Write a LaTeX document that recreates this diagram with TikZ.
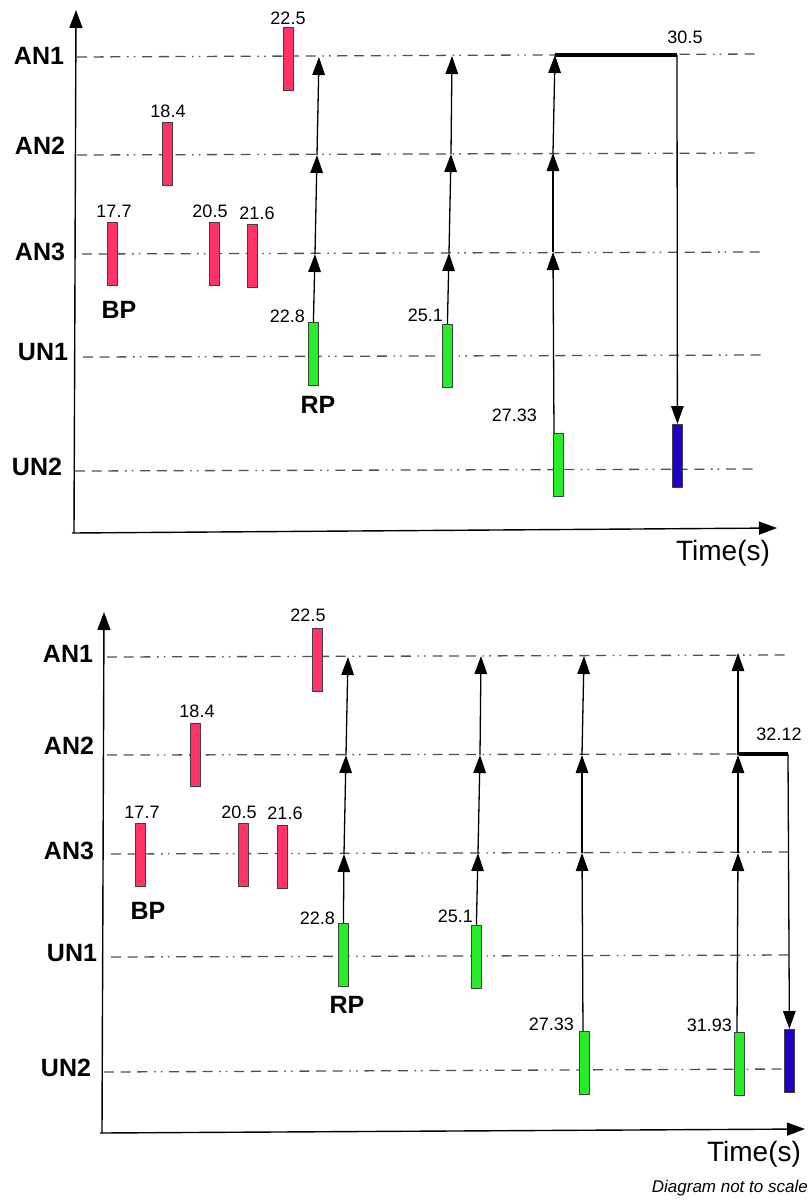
\documentclass[tikz,border=0pt]{standalone}
\usepackage{fontspec}
\setmainfont{Liberation Sans}
\usetikzlibrary{arrows.meta}
\definecolor{boxred}{RGB}{255,51,102}
\definecolor{boxgreen}{RGB}{40,238,40}
\definecolor{boxblue}{RGB}{34,0,204}
\definecolor{gridgray}{RGB}{80,80,80}
\tikzset{
  axisline/.style={line width=1.4pt, -{Triangle[width=13pt,length=18pt]}},
  levelline/.style={gridgray, line width=1.3pt, dash pattern=on 10pt off 6.7pt on 10pt off 6.7pt on 10pt off 6.7pt on 1.5pt off 5.2pt on 1.5pt off 6.8pt},
  arr/.style={line width=1.3pt, -{Triangle[width=12.5pt,length=18pt]}},
  thick3/.style={line width=3.5pt},
  evbox/.style={draw=black!75, line width=0.8pt, minimum width=10pt, minimum height=63pt, inner sep=0pt, anchor=north west},
  redbox/.style={evbox, fill=boxred},
  greenbox/.style={evbox, fill=boxgreen},
  bluebox/.style={evbox, fill=boxblue},
  lvl/.style={font=\fontsize{25}{27}\selectfont\bfseries, inner sep=0pt},
  num/.style={font=\fontsize{18}{20}\selectfont, inner sep=0pt},
  timelab/.style={font=\fontsize{28}{30}\selectfont, inner sep=0pt},
  notelab/.style={font=\fontsize{17}{19}\selectfont\itshape, inner sep=0pt},
}
\begin{document}
\begin{tikzpicture}[x=1pt,y=-1pt]
\useasboundingbox (0,0) rectangle (811,1203);

% ================= TOP PANEL =================
\coordinate (tyb) at (74,533);
\coordinate (tyt) at (76,10);
\coordinate (txl) at (72,533);
\coordinate (txr) at (777,528);
\draw[axisline] (tyb) -- (tyt);
\draw[axisline] (txl) -- (txr);

\coordinate (tA1l) at (77,57);  \coordinate (tA1r) at (758,54);
\coordinate (tA2l) at (77,155); \coordinate (tA2r) at (758,153);
\coordinate (tA3l) at (82,254); \coordinate (tA3r) at (762,252);
\coordinate (tU1l) at (83,357); \coordinate (tU1r) at (766,355);
\coordinate (tU2l) at (75,471); \coordinate (tU2r) at (757,469);
\draw[levelline] (tA1l) -- (tA1r);
\draw[levelline] (tA2l) -- (tA2r);
\draw[levelline] (tA3l) -- (tA3r);
\draw[levelline] (tU1l) -- (tU1r);
\draw[levelline] (tU2l) -- (tU2r);

\node[lvl] (tlA1) at (39,56) {AN1};
\node[lvl] (tlA2) at (40,146) {AN2};
\node[lvl] (tlA3) at (40,252) {AN3};
\node[lvl] (tlU1) at (43,352) {UN1};
\node[lvl] (tlU2) at (37,467) {UN2};
\node[lvl] (tBP) at (119,310) {BP};
\node[lvl] (tRP) at (318,405) {RP};

\node[redbox] (tr225) at (283,27) {};
\node[redbox] (tr184) at (162,122) {};
\node[redbox] (tr177) at (107,222) {};
\node[redbox] (tr205) at (209,222) {};
\node[redbox] (tr216) at (247,224) {};
\node[num] (tn225) at (288,18) {22.5};
\node[num] (tn184) at (168,111) {18.4};
\node[num] (tn177) at (114,211) {17.7};
\node[num] (tn205) at (210,211) {20.5};
\node[num] (tn216) at (257,213) {21.6};

\node[greenbox] (tg228) at (308,322) {};
\node[greenbox] (tg251) at (442,324) {};
\node[greenbox] (tg2733) at (553,433) {};
\node[bluebox] (tb) at (672,424) {};
\node[num, anchor=east] (tn228) at (305,316) {22.8};
\node[num, anchor=east] (tn251) at (443,315) {25.1};
\node[num, anchor=east] (tn2733) at (537,415) {27.33};
\node[num] (tn305) at (685,37) {30.5};

\coordinate (tc1a3) at (315,254);
\coordinate (tc1a2) at (317,155);
\coordinate (tc1a1) at (319,57);
\draw[arr] (tg228.north) -- (tc1a3);
\draw[arr] (tc1a3) -- (tc1a2);
\draw[arr] (tc1a2) -- (tc1a1);
\coordinate (tc2a3) at (449,253);
\coordinate (tc2a2) at (451,154);
\coordinate (tc2a1) at (452,56);
\draw[arr] (tg251.north) -- (tc2a3);
\draw[arr] (tc2a3) -- (tc2a2);
\draw[arr] (tc2a2) -- (tc2a1);
\coordinate (tc3s) at (554,433);
\coordinate (tc3a3) at (553,252);
\coordinate (tc3a2) at (553,153);
\coordinate (tc3a1) at (555,55);
\draw[arr] (tc3s) -- (tc3a3);
\draw[arr] (tc3a3) -- (tc3a2);
\draw[arr] (tc3a2) -- (tc3a1);
\coordinate (tth) at (677,55);
\draw[thick3] (tc3a1) -- (tth);
\draw[arr] (tth) -- (tb.north);

\node[timelab] (ttime) at (723,553) {Time(s)};

% ================= BOTTOM PANEL =================
\coordinate (byb) at (102,1133);
\coordinate (byt) at (104,612);
\coordinate (bxl) at (100,1133);
\coordinate (bxr) at (805,1129);
\draw[axisline] (byb) -- (byt);
\draw[axisline] (bxl) -- (bxr);

\coordinate (bA1l) at (107,657);  \coordinate (bA1r) at (788,655);
\coordinate (bA2l) at (107,755);  \coordinate (bA2r) at (740,754);
\coordinate (bA3l) at (111,854);  \coordinate (bA3r) at (793,852);
\coordinate (bU1l) at (111,957);  \coordinate (bU1r) at (795,955);
\coordinate (bU2l) at (104,1072); \coordinate (bU2r) at (785,1069);
\draw[levelline] (bA1l) -- (bA1r);
\draw[levelline] (bA2l) -- (bA2r);
\draw[levelline] (bA3l) -- (bA3r);
\draw[levelline] (bU1l) -- (bU1r);
\draw[levelline] (bU2l) -- (bU2r);

\node[lvl] (blA1) at (68,654) {AN1};
\node[lvl] (blA2) at (69,746) {AN2};
\node[lvl] (blA3) at (69,851) {AN3};
\node[lvl] (blU1) at (72,953) {UN1};
\node[lvl] (blU2) at (66,1068) {UN2};
\node[lvl] (bBP) at (148,911) {BP};
\node[lvl] (bRP) at (347,1005) {RP};

\node[redbox] (br225) at (312,628) {};
\node[redbox] (br184) at (190,723) {};
\node[redbox] (br177) at (135,823) {};
\node[redbox] (br205) at (238,823) {};
\node[redbox] (br216) at (277,825) {};
\node[num] (bn225) at (308,615) {22.5};
\node[num] (bn184) at (197,711) {18.4};
\node[num] (bn177) at (142,812) {17.7};
\node[num] (bn205) at (239,812) {20.5};
\node[num] (bn216) at (285,813) {21.6};

\node[greenbox] (bg228) at (338,923) {};
\node[greenbox] (bg251) at (471,925) {};
\node[greenbox] (bg2733) at (579,1031) {};
\node[greenbox] (bg3193) at (734,1032) {};
\node[bluebox] (bb) at (784,1029) {};
\node[num, anchor=east] (bn228) at (335,918) {22.8};
\node[num, anchor=east] (bn251) at (473,916) {25.1};
\node[num, anchor=east] (bn2733) at (574,1024) {27.33};
\node[num, anchor=east] (bn3193) at (732,1025) {31.93};
\node[num] (bn3212) at (779,734) {32.12};

\coordinate (bc1a3) at (344,854);
\coordinate (bc1a2) at (346,755);
\coordinate (bc1a1) at (348,657);
\draw[arr] (bg228.north) -- (bc1a3);
\draw[arr] (bc1a3) -- (bc1a2);
\draw[arr] (bc1a2) -- (bc1a1);
\coordinate (bc2a3) at (478,853);
\coordinate (bc2a2) at (480,755);
\coordinate (bc2a1) at (481,656);
\draw[arr] (bg251.north) -- (bc2a3);
\draw[arr] (bc2a3) -- (bc2a2);
\draw[arr] (bc2a2) -- (bc2a1);
\coordinate (bc3s) at (583,1031);
\coordinate (bc3a3) at (582,853);
\coordinate (bc3a2) at (582,755);
\coordinate (bc3a1) at (584,656);
\draw[arr] (bc3s) -- (bc3a3);
\draw[arr] (bc3a3) -- (bc3a2);
\draw[arr] (bc3a2) -- (bc3a1);
\coordinate (bc4s) at (737,1032);
\coordinate (bc4a3) at (738,853);
\coordinate (bc4a2) at (738,755);
\coordinate (bc4a1) at (738,653);
\draw[arr] (bc4s) -- (bc4a3);
\draw[arr] (bc4a3) -- (bc4a2);
\draw[arr] (bc4a2) -- (bc4a1);
\coordinate (bths) at (739,754);
\coordinate (bth) at (788,754);
\draw[thick3] (bths) -- (bth);
\draw[arr] (bth) -- (bb.north);

\node[timelab] (btime) at (754,1154) {Time(s)};
\node[notelab, anchor=east] (bnote) at (808,1188) {Diagram not to scale};
\end{tikzpicture}
\end{document}
